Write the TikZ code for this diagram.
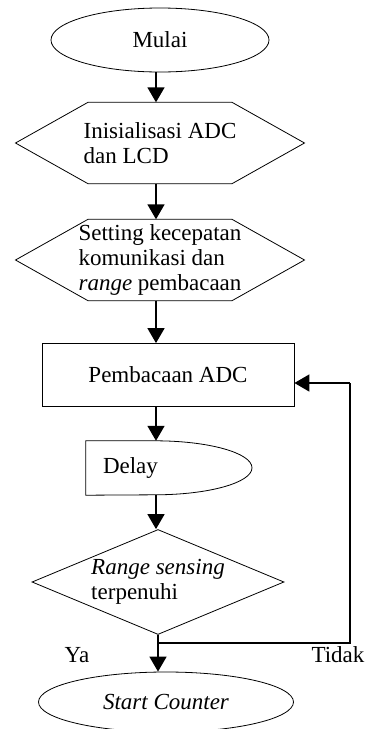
\documentclass[tikz,border=0pt]{standalone}
\usepackage{fontspec}
\setmainfont{Liberation Serif}
\usetikzlibrary{shapes.geometric,arrows.meta}

\begin{document}
\begin{tikzpicture}[
    x=1pt, y=1pt,
    font=\fontsize{23}{25}\selectfont,
    term/.style={ellipse, draw, line width=0.8pt},
    hexa/.style={rectangle, minimum width=144pt, minimum height=81pt, inner sep=0pt, align=left},
    block/.style={rectangle, draw, line width=0.8pt, minimum width=252pt, minimum height=63pt},
    decision/.style={diamond, draw, line width=0.8pt, aspect=2.4, minimum width=252pt, minimum height=105pt, inner sep=-10pt, align=left},
    arrow/.style={-{Triangle[length=15pt,width=17pt]}, line width=1.6pt},
    line/.style={line width=1.6pt}
]
\useasboundingbox (0,0) rectangle (366,-729);
\coordinate (spine) at (156,0);

% Mulai
\node[term, minimum width=218pt, minimum height=64pt] (mulai) at (160,-40) {Mulai};

% Inisialisasi
\node[hexa] (init) at (160,-143) {Inisialisasi ADC\\dan LCD};
\draw[line width=0.8pt] ([xshift=-72pt]init.north) -- ([xshift=72pt]init.north) -- ([xshift=144.5pt]init.center)
    -- ([xshift=72pt]init.south) -- ([xshift=-72pt]init.south) -- ([xshift=-144.5pt]init.center) -- cycle;

% Setting
\node[hexa] (set) at (160,-260) {Setting kecepatan\\komunikasi dan\\\textit{range} pembacaan};
\draw[line width=0.8pt] ([xshift=-72pt]set.north) -- ([xshift=72pt]set.north) -- ([xshift=144.5pt]set.center)
    -- ([xshift=72pt]set.south) -- ([xshift=-72pt]set.south) -- ([xshift=-144.5pt]set.center) -- cycle;

% Pembacaan
\node[block] (read) at (168,-375) {Pembacaan ADC};

% Delay
\node[rectangle, minimum width=166pt, minimum height=54pt, text width=132pt, inner xsep=17pt, align=left] (delay) at (169,-468) {Delay};
\draw[line width=0.8pt] (delay.north west) -- ([xshift=-14pt]delay.north)
    arc[start angle=90, end angle=-90, x radius=97pt, y radius=27pt] -- (delay.south west) -- cycle;

% Keputusan
\node[decision] (cond) at (158,-582) {\textit{Range sensing}\\terpenuhi};

% Start
\node[term, minimum width=255pt, minimum height=60pt] (start) at (166,-702) {\textit{Start Counter}};

% panah
\draw[arrow] (mulai.south -| spine) -- (init.north -| spine);
\draw[arrow] (init.south -| spine) -- (set.north -| spine);
\draw[arrow] (set.south -| spine) -- (read.north -| spine);
\draw[arrow] (read.south -| spine) -- (delay.north -| spine);
\draw[arrow] (delay.south -| spine) -- (cond.north -| spine);
\draw[arrow] (cond.south) -- (start.north -| cond.south);

% kembali
\coordinate (split) at ([yshift=-8pt]cond.south);
\coordinate (back) at (350,-383);
\draw[line] (split) -| (back);
\draw[arrow] (back) -- (read.east |- back);

\node (ya) at (77,-655) {Ya};
\node (tidak) at (338,-655) {Tidak};

\end{tikzpicture}
\end{document}
